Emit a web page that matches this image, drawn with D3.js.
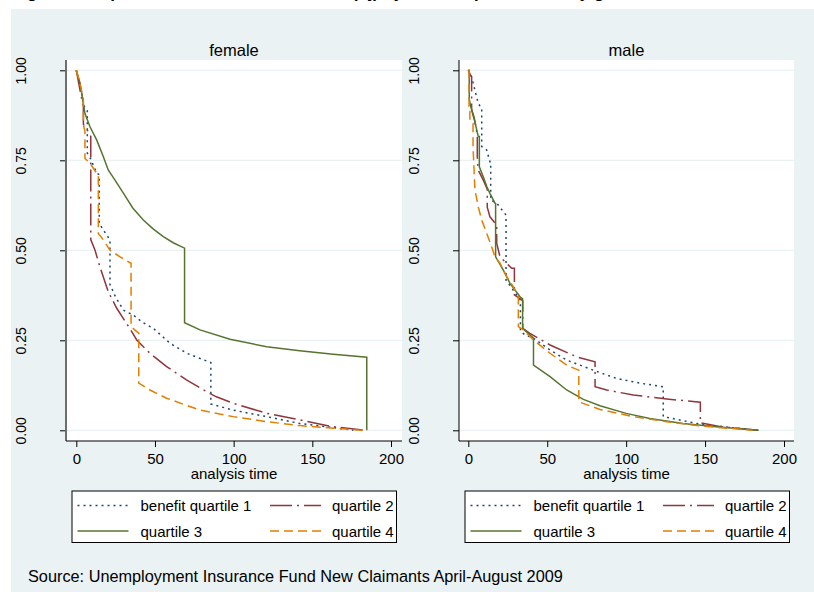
<!DOCTYPE html>
<meta charset="utf-8">
<style>
body { margin: 0; background: #fff; }
text { font-family: "Liberation Sans", Arial, sans-serif; fill: #000; }
.tick line { stroke: #000; }
</style>
<body>
<div id="chart"></div>
<script src="https://d3js.org/d3.v7.min.js"></script>
<script>

// Kaplan-Meier estimates: [analysis time, survival]
var femaleQ1 = [[0,1],[2.4,0.96],[5,0.9],[7,0.89],[7,0.77],[9,0.755],[13,0.714],[14.6,0.71],[14.6,0.575],[17.2,0.556],[21.4,0.529],[21.4,0.405],[25,0.37],[29.9,0.334],[36.2,0.32],[42,0.3],[49,0.283],[59.5,0.242],[70.2,0.214],[85.5,0.188],[85.5,0.073],[99.8,0.056],[121,0.038],[142,0.019],[163,0.008],[176,0]];
var femaleQ2 = [[0,1],[3,0.93],[4.5,0.9],[4.5,0.85],[7,0.834],[9.2,0.816],[9.2,0.53],[11.9,0.5],[15,0.454],[20.3,0.385],[25.7,0.339],[34,0.283],[38.4,0.251],[46.8,0.214],[57.4,0.177],[70,0.14],[82.9,0.107],[89,0.093],[99.8,0.075],[121,0.047],[142,0.029],[163,0.01],[184,0]];
var femaleQ3 = [[0,1],[2.4,0.964],[4,0.92],[5.5,0.88],[8.7,0.843],[13,0.806],[17.2,0.76],[20.3,0.723],[24.6,0.695],[30,0.658],[36,0.617],[42.6,0.584],[49,0.559],[55.3,0.538],[61.6,0.521],[68.8,0.506],[68.8,0.299],[78.6,0.279],[97.7,0.253],[121,0.232],[142,0.221],[163.3,0.211],[184.6,0.203],[184.6,0]];
var femaleQ4 = [[0,1],[2,0.97],[4.5,0.92],[4.5,0.85],[5.5,0.83],[5.5,0.755],[8.7,0.742],[13,0.714],[14,0.71],[14,0.547],[17.2,0.529],[21.4,0.5],[27.8,0.482],[34.8,0.464],[34.8,0.288],[38.4,0.274],[39.7,0.27],[39.7,0.131],[46.8,0.112],[57.4,0.089],[78.6,0.056],[99.8,0.038],[121,0.024],[142,0.013],[163,0.006],[182,0]];

var maleQ1 = [[0,1],[2.1,0.982],[3.6,0.955],[6.3,0.908],[8.5,0.894],[8.5,0.788],[11.6,0.779],[13.7,0.746],[14.2,0.746],[14.2,0.64],[18,0.631],[23.9,0.598],[23.9,0.417],[28.5,0.389],[33,0.362],[33,0.275],[36,0.265],[41.2,0.256],[51.8,0.223],[62.3,0.195],[79.2,0.167],[94,0.144],[108.8,0.131],[123.5,0.121],[123.5,0.038],[147,0.017],[168,0.007],[184,0]];
var maleQ2 = [[0,1],[2.1,0.98],[2.1,0.89],[4,0.86],[5.7,0.82],[5.7,0.76],[6.3,0.723],[9.5,0.695],[12,0.67],[12,0.62],[13.7,0.593],[18,0.57],[18,0.519],[20.1,0.482],[27.5,0.45],[29.2,0.45],[29.2,0.376],[33.8,0.362],[34.5,0.36],[34.5,0.283],[39,0.269],[51.8,0.237],[68.7,0.204],[80.3,0.19],[80.3,0.121],[87.7,0.112],[104.5,0.098],[125.7,0.087],[147,0.078],[147,0.021],[160,0.01],[184,0]];
var maleQ3 = [[0,1],[0.6,1],[0.6,0.92],[1.5,0.9],[3.6,0.871],[4.9,0.843],[6.3,0.816],[7,0.816],[7,0.732],[9.5,0.704],[11.7,0.677],[13.7,0.658],[16.9,0.631],[17.3,0.63],[17.3,0.482],[22.2,0.445],[26.4,0.408],[32.8,0.371],[34.4,0.365],[34.4,0.283],[39,0.265],[41.3,0.256],[41.3,0.181],[51.8,0.149],[62.3,0.112],[72.9,0.086],[83.4,0.068],[100,0.047],[115,0.033],[136,0.019],[157,0.01],[184,0]];
var maleQ4 = [[0,1],[0.5,1],[0.5,0.9],[1,0.9],[1,0.86],[3,0.853],[3,0.788],[4.2,0.668],[6.3,0.621],[8.5,0.584],[11.7,0.547],[14.8,0.51],[16.9,0.482],[20.1,0.464],[24.3,0.427],[28.5,0.399],[31.7,0.371],[31.7,0.288],[34.8,0.279],[41.2,0.251],[51.8,0.214],[62.3,0.181],[70,0.167],[70,0.079],[83.4,0.058],[104.5,0.038],[125.7,0.024],[147,0.012],[180,0]];

var panelTitles = ["female", "male"];
var seriesLabels = ["benefit quartile 1", "quartile 2", "quartile 3", "quartile 4"];
var xTicks = [0, 50, 100, 150, 200];
var yTicks = [0, 0.25, 0.5, 0.75, 1];

var panelData = [
  [femaleQ1, femaleQ2, femaleQ3, femaleQ4],
  [maleQ1, maleQ2, maleQ3, maleQ4]
];

// stata s2color look
var colors = ["#1a476f", "#90353b", "#55752f", "#e37e00"];
var dashes = ["2,4", "22,5,2,5", null, "9,5"];
var bg = "#eaf2f3";

var width = 814, height = 592;

var svg = d3.select("#chart").append("svg")
    .attr("width", width)
    .attr("height", height);

svg.append("rect")
    .attr("x", 11).attr("y", 9)
    .attr("width", width - 11).attr("height", height - 9)
    .attr("fill", bg);

// the graph title is cut off at the top of the picture
svg.append("text")
    .attr("x", 12).attr("y", -2)
    .style("font-size", "17px")
    .style("font-weight", "bold")
    .text("Figure 3: Kaplan-Meier survival estimates (bj) by benefit quartile and by gender");

var panels = [
  {left: 66, right: 402, x0: 76.3, x200: 391, labelX: 25.5, axisColor: "#6e6e6e", axisWidth: 2},
  {left: 459, right: 794, x0: 468.3, x200: 784, labelX: 418.5, axisColor: "#000", axisWidth: 1}
];
var plotTop = 60, plotBottom = 441;

var y = d3.scaleLinear().domain([0, 1]).range([430.3, 70.3]);

panels.forEach(function(p, pi) {
  var x = d3.scaleLinear().domain([0, 200]).range([p.x0, p.x200]);
  var g = svg.append("g");

  g.append("rect")
      .attr("x", p.left).attr("y", plotTop)
      .attr("width", p.right - p.left).attr("height", plotBottom - plotTop)
      .attr("fill", "#fff");

  g.selectAll(".grid")
    .data(yTicks)
    .enter().append("line")
      .attr("x1", p.left).attr("x2", p.right)
      .attr("y1", d => y(d)).attr("y2", d => y(d))
      .attr("stroke", bg).attr("stroke-width", 1.2);

  var line = d3.line()
      .x(d => x(d[0]))
      .y(d => y(d[1]));

  panelData[pi].forEach(function(s, si) {
    g.append("path")
        .datum(s)
        .attr("d", line)
        .attr("fill", "none")
        .attr("stroke", colors[si])
        .attr("stroke-width", 1.5)
        .attr("stroke-dasharray", dashes[si]);
  });

  // y axis
  var ya = g.append("g")
      .attr("transform", "translate(" + p.left + ",0)")
      .call(d3.axisLeft(y).tickValues(yTicks).tickSize(6).tickSizeOuter(0).tickFormat(d3.format(".2f")));
  ya.select(".domain").remove();
  ya.selectAll("text")
      .attr("transform", "rotate(-90)")
      .attr("x", 0).attr("dy", null)
      .attr("y", p.labelX - p.left)
      .attr("text-anchor", "middle")
      .style("font-size", "14px")
      .style("font-family", null);

  // x axis
  var xa = g.append("g")
      .attr("transform", "translate(0," + plotBottom + ")")
      .call(d3.axisBottom(x).tickValues(xTicks).tickSize(6).tickSizeOuter(0));
  xa.select(".domain").remove();
  xa.selectAll("text")
      .attr("y", 23).attr("dy", null)
      .style("font-size", "15px")
      .style("font-family", null);

  g.append("line")
      .attr("x1", p.left).attr("x2", p.left)
      .attr("y1", plotTop).attr("y2", plotBottom)
      .attr("stroke", p.axisColor).attr("stroke-width", p.axisWidth);
  g.append("line")
      .attr("x1", p.left).attr("x2", p.right)
      .attr("y1", plotBottom).attr("y2", plotBottom)
      .attr("stroke", "#000").attr("stroke-width", 1);

  g.append("text")
      .attr("x", (p.left + p.right) / 2).attr("y", 55.5)
      .attr("text-anchor", "middle")
      .style("font-size", "16.5px")
      .text(panelTitles[pi]);

  g.append("text")
      .attr("x", (p.left + p.right) / 2).attr("y", 479)
      .attr("text-anchor", "middle")
      .style("font-size", "15px")
      .text("analysis time");

  // legend
  var bx = p.left + 6, by = 491, bw = 324.5, bh = 51.5;
  var lg = g.append("g");
  lg.append("rect")
      .attr("x", bx).attr("y", by)
      .attr("width", bw).attr("height", bh)
      .attr("fill", "#fff").attr("stroke", "#000").attr("stroke-width", 1);

  seriesLabels.forEach(function(lab, i) {
    var col = i % 2, row = Math.floor(i / 2);
    var lx = bx + (col ? 198 : 5.5);
    var ly = by + (row ? 40 : 14.5);
    lg.append("line")
        .attr("x1", lx).attr("x2", lx + 51)
        .attr("y1", ly).attr("y2", ly)
        .attr("stroke", colors[i])
        .attr("stroke-width", 1.5)
        .attr("stroke-dasharray", dashes[i]);
    lg.append("text")
        .attr("x", bx + (col ? 260 : 68.5))
        .attr("y", ly + 5.5)
        .style("font-size", "15px")
        .text(lab);
  });
});

svg.append("text")
    .attr("x", 28).attr("y", 581.5)
    .style("font-size", "16.3px")
    .text("Source: Unemployment Insurance Fund New Claimants April-August 2009");

</script>
</body>
